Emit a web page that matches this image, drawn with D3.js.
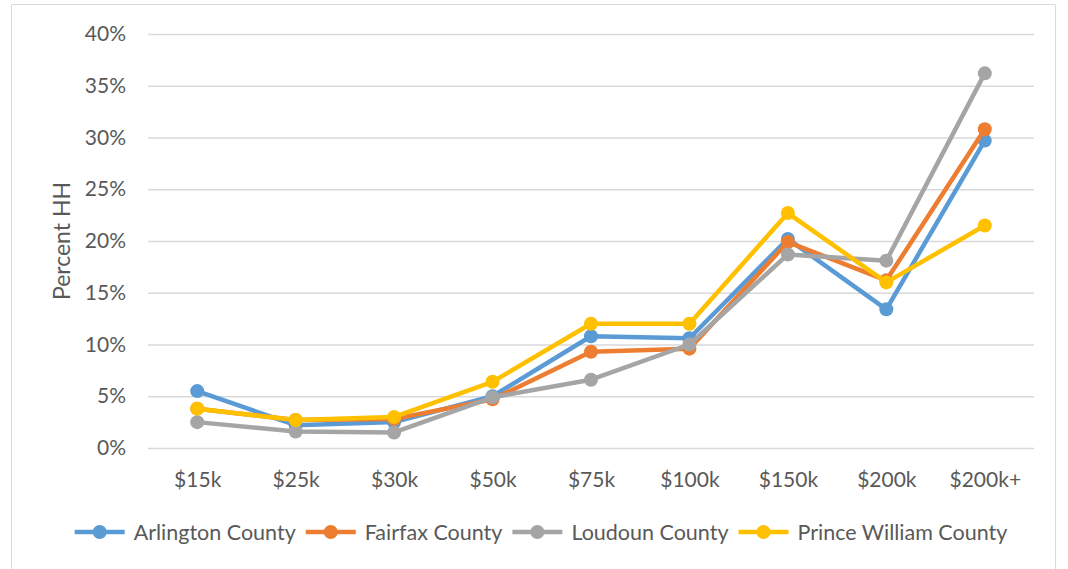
<!DOCTYPE html>
<html>
<head>
<meta charset="utf-8">
<script src="https://cdn.jsdelivr.net/npm/d3@7"></script>
<style>
	body { margin: 0; background: #fff; overflow: hidden; }
	svg { display: block; font-family: Lato, 'Noto Sans', sans-serif; }
</style>
</head>
<body>
<svg width="1068" height="569"></svg>
<script>
const categories = ['$15k', '$25k', '$30k', '$50k', '$75k', '$100k', '$150k', '$200k', '$200k+'];
const arlington = [5.5, 2.2, 2.5, 5.0, 10.8, 10.6, 20.2, 13.4, 29.7];
const fairfax = [3.8, 2.7, 2.8, 4.7, 9.3, 9.6, 19.9, 16.2, 30.8];
const loudoun = [2.5, 1.6, 1.5, 4.9, 6.6, 10.0, 18.7, 18.1, 36.2];
const princeWilliam = [3.8, 2.7, 3.0, 6.4, 12.0, 12.0, 22.7, 16.0, 21.5];
const seriesNames = ['Arlington County', 'Fairfax County', 'Loudoun County', 'Prince William County'];
const yTicks = [0, 5, 10, 15, 20, 25, 30, 35, 40];

const colors = ['#5b9bd5', '#ed7d31', '#a5a5a5', '#ffc000'];
const series = [arlington, fairfax, loudoun, princeWilliam].map((values, i) => ({
	name: seriesNames[i],
	color: colors[i],
	values
}));

const svg = d3.select('svg');
const width = +svg.attr('width');
const height = +svg.attr('height');

// outer chart frame (bottom edge lies below the visible area)
svg.append('path')
	.attr('d', `M11.5,${height} V4.5 H1055.5 V${height}`)
	.attr('fill', 'none')
	.attr('stroke', '#d9d9d9');

const margin = {top: 34, right: 34, bottom: 121, left: 148};
const innerWidth = width - margin.left - margin.right;
const innerHeight = height - margin.top - margin.bottom;

const g = svg.append('g')
	.attr('transform', `translate(${margin.left}, ${margin.top})`);

const xScale = d3.scalePoint()
	.domain(categories)
	.range([0, innerWidth])
	.padding(0.5);

const yScale = d3.scaleLinear()
	.domain([0, 40])
	.range([innerHeight, 0]);

const yAxis = d3.axisLeft(yScale)
	.tickValues(yTicks)
	.tickFormat(d => d + '%')
	.tickSize(-innerWidth)
	.tickPadding(22);

const yAxisG = g.append('g').call(yAxis)
	.attr('font-family', null);
yAxisG.select('.domain').remove();
yAxisG.selectAll('.tick line').attr('stroke', '#d9d9d9').attr('stroke-width', 1.3);
yAxisG.selectAll('.tick text').attr('font-size', 21).attr('fill', '#595959');

yAxisG.append('text')
	.attr('transform', 'rotate(-90)')
	.attr('x', -innerHeight / 2)
	.attr('y', -78)
	.attr('fill', '#595959')
	.attr('text-anchor', 'middle')
	.attr('font-size', 23)
	.text('Percent HH');

const xAxis = d3.axisBottom(xScale)
	.tickSize(0)
	.tickPadding(24);

const xAxisG = g.append('g')
	.attr('transform', `translate(0, ${innerHeight})`)
	.call(xAxis)
	.attr('font-family', null);
xAxisG.select('.domain').remove();
xAxisG.selectAll('.tick text').attr('font-size', 21).attr('fill', '#595959');

const lineGenerator = d3.line()
	.x((d, i) => xScale(categories[i]))
	.y(d => yScale(d));

const seriesG = g.selectAll('.series')
	.data(series)
	.enter().append('g')
	.attr('class', 'series');

seriesG.append('path')
	.attr('d', d => lineGenerator(d.values))
	.attr('fill', 'none')
	.attr('stroke', d => d.color)
	.attr('stroke-width', 4.5)
	.attr('stroke-linejoin', 'round');

seriesG.selectAll('circle')
	.data(d => d.values.map((v, i) => ({v, i, color: d.color})))
	.enter().append('circle')
	.attr('cx', d => xScale(categories[d.i]))
	.attr('cy', d => yScale(d.v))
	.attr('r', 7)
	.attr('fill', d => d.color);

// legend, laid out from measured text widths
const legend = svg.append('g')
	.attr('transform', 'translate(0, 532)');

const legendItem = legend.selectAll('.legend-item')
	.data(series)
	.enter().append('g')
	.attr('class', 'legend-item');

legendItem.append('line')
	.attr('x1', 0).attr('x2', 50)
	.attr('stroke', d => d.color)
	.attr('stroke-width', 4.5);

legendItem.append('circle')
	.attr('cx', 25)
	.attr('r', 7)
	.attr('fill', d => d.color);

legendItem.append('text')
	.attr('x', 59)
	.attr('dy', '0.35em')
	.attr('fill', '#595959')
	.attr('font-size', 21.5)
	.text(d => d.name);

const itemWidths = [];
legendItem.each(function() {
	itemWidths.push(59 + this.querySelector('text').getComputedTextLength());
});
const itemGap = 10;
const totalWidth = d3.sum(itemWidths) + itemGap * (itemWidths.length - 1);
let cursor = 541 - totalWidth / 2;
legendItem.attr('transform', (d, i) => {
	const x = cursor;
	cursor += itemWidths[i] + itemGap;
	return `translate(${x}, 0)`;
});
</script>
</body>
</html>
